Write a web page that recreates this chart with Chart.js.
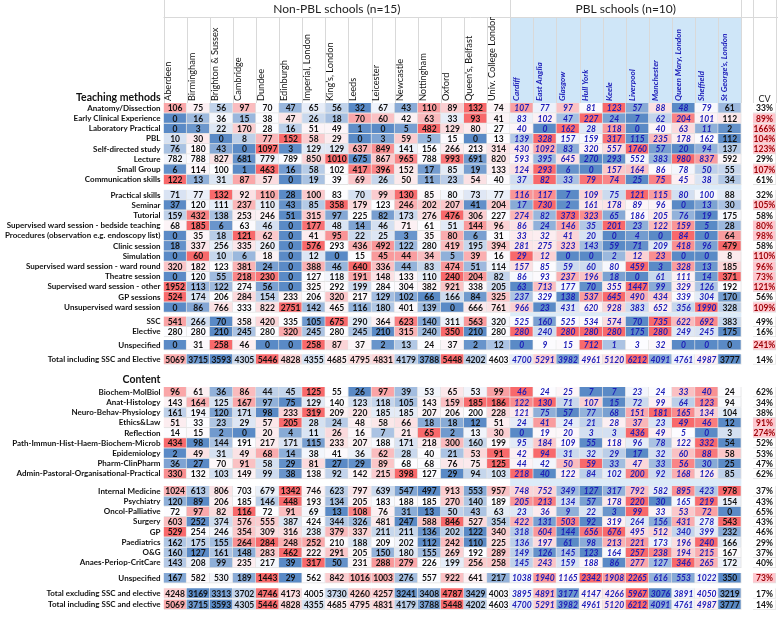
<!DOCTYPE html>
<html>
<head>
<meta charset="utf-8">
<script src="https://cdn.jsdelivr.net/npm/chart.js@4.4.1/dist/chart.umd.min.js"></script>
<style>
  html, body { margin: 0; padding: 0; background: #fff; }
</style>
</head>
<body>
<canvas id="chart" width="778" height="619"></canvas>
<script>
// schools: first 15 are non-PBL, last 10 are PBL
var schools = ['Aberdeen', 'Birmingham', 'Brighton & Sussex', 'Cambridge', 'Dundee', 'Edinburgh',
  'Imperial, London', 'King\u2019s, London', 'Leeds', 'Leicester', 'Newcastle', 'Nottingham', 'Oxford',
  'Queen\u2019s, Belfast', 'Univ. College London',
  'Cardiff', 'East Anglia', 'Glasgow', 'Hull York', 'Keele', 'Liverpool', 'Manchester',
  'Queen Mary, London', 'Sheffield', 'St George\u2019s, London'];
var nonPblCount = 15;

// teaching methods (hours)
var anatomy      = [106,75,56,97,70,47,65,56,32,67,43,110,89,132,74, 107,77,97,81,123,57,88,48,79,61];
var earlyClin    = [0,16,36,15,38,47,26,18,70,60,42,63,33,93,41, 83,102,47,227,24,7,62,204,101,112];
var labPract     = [0,3,22,170,28,16,51,49,1,0,5,482,129,80,27, 40,0,162,28,118,0,40,63,11,2];
var pbl          = [10,30,0,8,77,152,58,29,0,3,59,5,15,0,13, 139,328,157,159,317,115,235,178,162,112];
var selfDirected = [76,180,43,0,1097,3,129,129,637,849,141,156,266,213,314, 430,1092,83,320,557,1760,57,20,94,137];
var lecture      = [782,788,827,681,779,789,850,1010,675,867,965,788,993,691,820, 593,395,645,270,293,552,383,980,837,592];
var smallGroup   = [6,114,100,1,463,16,58,102,417,396,152,17,85,19,133, 124,293,6,0,157,164,86,78,50,55];
var commSkills   = [122,13,31,87,57,0,19,39,69,26,50,11,23,54,40, 37,82,33,79,74,25,75,45,38,34];
var practSkills  = [71,77,132,92,110,28,100,83,70,99,130,85,80,73,77, 116,117,7,109,75,121,115,80,100,88];
var seminar      = [37,120,111,237,110,43,85,358,179,123,246,202,207,41,204, 17,730,2,161,178,89,96,0,13,30];
var tutorial     = [159,432,138,253,246,51,315,97,225,82,173,276,476,306,227, 274,82,373,323,65,186,205,76,19,175];
var bedside      = [68,185,6,63,46,0,177,48,14,46,71,61,51,144,96, 86,24,146,35,201,23,122,159,5,28];
var procedures   = [0,35,18,121,62,0,41,95,22,25,3,35,80,6,31, 33,32,41,20,0,4,0,84,0,64];
var clinic       = [18,337,256,335,260,0,576,293,436,492,122,280,419,195,394, 281,275,323,143,59,71,209,418,96,479];
var simulation   = [0,60,10,6,18,0,12,0,15,45,44,34,5,39,16, 29,12,0,0,2,12,23,0,0,8];
var wardRound    = [320,182,123,381,24,0,388,46,640,336,44,83,474,51,114, 157,85,59,60,80,459,3,328,13,185];
var theatre      = [0,120,55,218,230,0,127,118,191,148,133,110,240,204,82, 86,93,237,196,18,0,61,111,14,371];
var wardOther    = [1952,113,122,274,56,0,325,292,199,284,304,382,921,338,205, 63,713,177,70,355,1447,99,329,126,192];
var gpSessions   = [524,174,206,284,154,233,206,320,217,129,102,66,166,84,325, 237,329,138,537,645,490,434,339,304,170];
var unsupWard    = [0,86,766,333,822,2751,142,465,116,180,401,139,0,666,761, 966,23,431,620,928,383,652,356,1990,328];
var ssc          = [541,266,70,358,420,335,105,675,290,364,623,140,311,563,320, 525,160,525,534,574,70,735,622,692,383];
var elective     = [280,280,210,245,280,320,245,280,245,210,315,240,350,210,280, 280,240,280,280,280,175,280,249,245,175];
var unspecTeach  = [0,31,258,46,0,0,258,87,37,2,13,24,37,2,12, 0,9,15,712,1,3,32,0,0,0];
var totalInclA   = [5069,3715,3593,4305,5446,4828,4355,4685,4795,4831,4179,3788,5448,4202,4603, 4700,5291,3982,4961,5120,6212,4091,4761,4987,3777];

var teachingLabels = ['Anatomy/Dissection', 'Early Clinical Experience', 'Laboratory Practical', 'PBL',
  'Self-directed study', 'Lecture', 'Small Group', 'Communication skills', 'Practical skills', 'Seminar',
  'Tutorial', 'Supervised ward session - bedside teaching', 'Procedures (observation e.g. endoscopy list)',
  'Clinic session', 'Simulation', 'Supervised ward session - ward round', 'Theatre session',
  'Supervised ward session - other', 'GP sessions', 'Unsupervised ward session', 'SSC', 'Elective',
  'Unspecified', 'Total including SSC and Elective'];
var teachingValues = [anatomy, earlyClin, labPract, pbl, selfDirected, lecture, smallGroup, commSkills,
  practSkills, seminar, tutorial, bedside, procedures, clinic, simulation, wardRound, theatre, wardOther,
  gpSessions, unsupWard, ssc, elective, unspecTeach, totalInclA];
var teachingCV = [33,89,166,104,123,29,107,61,32,105,58,80,98,58,110,96,73,121,56,109,49,16,241,14];

// content (hours)
var biochem      = [96,61,36,86,44,45,125,55,26,97,39,53,65,53,99, 46,24,25,7,7,23,24,33,40,24];
var anatHist     = [143,164,125,167,97,75,129,140,123,118,105,143,159,185,186, 122,130,71,107,15,72,99,64,123,94];
var neuroPhys    = [161,194,120,171,98,233,319,209,220,185,185,207,206,200,228, 121,75,57,77,68,151,181,165,134,104];
var ethicsLaw    = [51,33,23,29,57,205,28,24,48,58,66,18,18,12,51, 24,41,24,21,28,37,23,49,46,12];
var reflection   = [14,15,2,0,20,4,11,26,16,7,21,65,2,13,30, 0,19,20,3,3,436,49,5,0,3];
var pathImmun    = [434,98,144,191,217,171,115,233,207,188,171,218,300,160,199, 95,184,109,55,118,96,78,122,332,54];
var epidem       = [2,49,31,49,68,14,38,41,36,62,28,40,21,53,91, 42,94,31,32,29,17,32,60,88,58];
var pharm        = [36,27,70,91,58,29,81,27,29,89,68,68,76,75,125, 44,42,50,59,33,47,33,56,30,25];
var admin        = [330,132,103,149,99,38,138,92,142,215,398,127,29,94,103, 218,40,122,84,102,200,92,168,126,85];
var internalMed  = [1024,613,806,703,679,1342,746,623,797,639,547,497,913,553,957, 748,752,349,127,317,792,582,895,423,978];
var psychiatry   = [120,89,206,185,146,448,193,134,205,183,188,185,270,140,189, 205,213,134,57,178,220,30,165,219,154];
var oncol        = [72,97,82,116,72,91,69,13,108,76,31,13,50,43,63, 23,36,9,22,3,99,33,53,72,0];
var surgery      = [603,252,374,576,555,387,424,344,326,481,247,588,846,527,354, 422,131,503,92,319,264,156,431,278,543];
var gp           = [529,254,246,354,309,316,238,379,337,211,211,136,202,122,340, 318,604,144,656,676,495,512,340,399,232];
var paediatrics  = [162,175,155,264,284,248,252,210,188,209,202,112,242,110,225, 136,197,61,98,213,221,173,196,240,166];
var obsGyn       = [160,127,161,148,283,462,222,291,205,150,180,155,269,192,289, 149,126,145,123,164,257,238,194,215,167];
var anaes        = [143,208,99,235,217,39,317,50,231,288,279,226,199,256,258, 145,243,159,188,86,277,127,346,265,172];
var unspecCont   = [167,582,530,189,1443,29,562,842,1016,1003,276,557,922,641,217, 1038,1940,1165,2342,1908,2265,616,553,1022,350];
var totalExcl    = [4248,3169,3313,3702,4746,4173,4005,3730,4260,4257,3241,3408,4787,3429,4003, 3895,4891,3177,4147,4266,5967,3076,3891,4050,3219];
var totalInclB   = [5069,3715,3593,4305,5446,4828,4355,4685,4795,4831,4179,3788,5448,4202,4603, 4700,5291,3982,4961,5120,6212,4091,4761,4987,3777];

var contentLabels = ['Biochem-MolBiol', 'Anat-Histology', 'Neuro-Behav-Physiology', 'Ethics&Law', 'Reflection',
  'Path-Immun-Hist-Haem-Biochem-Microb', 'Epidemiology', 'Pharm-ClinPharm',
  'Admin-Pastoral-Organisational-Practical', 'Internal Medicine', 'Psychiatry', 'Oncol-Palliative', 'Surgery',
  'GP', 'Paediatrics', 'O&G', 'Anaes-Periop-CritCare', 'Unspecified', 'Total excluding SSC and elective',
  'Total including SSC and elective'];
var contentValues = [biochem, anatHist, neuroPhys, ethicsLaw, reflection, pathImmun, epidem, pharm, admin,
  internalMed, psychiatry, oncol, surgery, gp, paediatrics, obsGyn, anaes, unspecCont, totalExcl, totalInclB];
var contentCV = [62,34,38,91,274,52,53,47,62,37,43,65,43,46,29,37,40,73,17,14];

// ---- layout: extra vertical space (in rows) before some rows ----
var teachGap = {8: 0.5, 20: 0.4, 22: 0.3, 23: 0.4};
var contGap = {9: 0.7, 17: 0.5, 18: 0.5, 19: 0.1};
var cvX = 25.5;

var rowPos = [], rowText = [], rowVals = [], rowCV = [], headerIdx = [];
var p = -1;
headerIdx.push(rowPos.length); rowPos.push(p); rowText.push('Teaching methods'); rowVals.push(null); rowCV.push(null);
teachingLabels.forEach(function (lab, i) {
  p += 1 + (teachGap[i] || 0);
  rowPos.push(p); rowText.push(lab); rowVals.push(teachingValues[i]); rowCV.push(teachingCV[i]);
});
p += 2.0;
headerIdx.push(rowPos.length); rowPos.push(p); rowText.push('Content'); rowVals.push(null); rowCV.push(null);
p += 0.2;
contentLabels.forEach(function (lab, i) {
  p += 1 + (contGap[i] || 0);
  rowPos.push(p); rowText.push(lab); rowVals.push(contentValues[i]); rowCV.push(contentCV[i]);
});

// ---- excel style 3-colour scale (min blue, median white, max red), per row and per school group ----
var BLUE = [90, 138, 198], MID = [252, 252, 255], RED = [248, 105, 107];
function percentile(sorted, q) {
  var r = q * (sorted.length - 1), lo = Math.floor(r), hi = Math.ceil(r);
  return sorted[lo] + (sorted[hi] - sorted[lo]) * (r - lo);
}
function mix(a, b, t) {
  t = Math.max(0, Math.min(1, t));
  return 'rgb(' + a.map(function (c, k) { return Math.round(c + (b[k] - c) * t); }).join(',') + ')';
}
function heat(v, group) {
  var s = group.slice().sort(function (a, b) { return a - b; });
  var mn = s[0], mx = s[s.length - 1], md = percentile(s, 0.5);
  if (v <= md) return md === mn ? mix(BLUE, MID, 1) : mix(BLUE, MID, (v - mn) / (md - mn));
  return mix(MID, RED, (v - md) / (mx - md));
}

var datasets = [];
rowVals.forEach(function (vals, r) {
  if (!vals) return;
  var pos = rowPos[r];
  var pts = vals.map(function (v, i) { return {x: i, y: [pos - 0.5, pos + 0.5], v: v}; });
  pts.push({x: cvX, y: [pos - 0.5, pos + 0.5], v: rowCV[r], cv: true});
  datasets.push({
    data: pts,
    values: vals,
    backgroundColor: function (ctx) {
      var d = ctx.raw;
      if (!d) return '#fff';
      if (d.cv) return d.v > 70 ? '#ffc7ce' : '#ffffff';
      var vals = ctx.dataset.values;
      var grp = d.x < nonPblCount ? vals.slice(0, nonPblCount) : vals.slice(nonPblCount);
      return heat(d.v, grp);
    },
    borderColor: '#e2e2e2',
    borderWidth: {top: 0, left: 0, right: 1, bottom: 1},
    borderSkipped: false,
    categoryPercentage: 1,
    barPercentage: 1
  });
});

var FONT = 'Lato, "Open Sans", sans-serif';

var cellText = {
  id: 'cellText',
  afterDatasetsDraw: function (chart) {
    var ctx = chart.ctx;
    ctx.save();
    ctx.textAlign = 'center';
    ctx.textBaseline = 'middle';
    chart.data.datasets.forEach(function (ds, di) {
      var meta = chart.getDatasetMeta(di);
      meta.data.forEach(function (bar, i) {
        var d = ds.data[i];
        var txt = d.cv ? d.v + '%' : String(d.v);
        if (d.cv) {
          ctx.font = 'bold 8.5px ' + FONT;
          ctx.fillStyle = d.v > 70 ? '#9c0006' : '#111';
        } else if (d.x >= nonPblCount && d.x < schools.length - 1) {
          ctx.font = 'italic bold 8.5px ' + FONT;
          ctx.fillStyle = '#1c1cb8';
        } else {
          ctx.font = 'bold 8.5px ' + FONT;
          ctx.fillStyle = '#111';
        }
        ctx.fillText(txt, bar.x, (bar.y + bar.base) / 2 + 0.5);
      });
    });
    ctx.restore();
  }
};

var headerDeco = {
  id: 'headerDeco',
  beforeDraw: function (chart) {
    var ctx = chart.ctx, xs = chart.scales.x, ys = chart.scales.y, a = chart.chartArea;
    var headTop = 17, headBottom = a.top;
    ctx.save();
    ctx.fillStyle = '#fff';
    ctx.fillRect(0, 0, chart.width, chart.height);
    // PBL header shading
    var pl = xs.getPixelForValue(nonPblCount - 0.5), pr = xs.getPixelForValue(schools.length - 0.5);
    ctx.fillStyle = '#cfe6f8';
    ctx.fillRect(pl, headTop, pr - pl, headBottom - headTop);
    // light blue gap rows in PBL block
    ctx.fillStyle = '#dcebf8';
    [[7, 8.5], [19.5, 20.9], [35.8, 37.5]].forEach(function (g) {
      var t = ys.getPixelForValue(g[0] + 0.5), b = ys.getPixelForValue(g[1] - 0.5);
      ctx.fillRect(pl, t, pr - pl, b - t);
    });
    // grid lines of the header
    ctx.strokeStyle = '#d9d9d9';
    ctx.lineWidth = 1;
    ctx.beginPath();
    ctx.moveTo(a.left, headTop + 0.5); ctx.lineTo(chart.width, headTop + 0.5);
    for (var i = 0; i <= schools.length; i++) {
      var x = Math.round(xs.getPixelForValue(i - 0.5)) + 0.5;
      ctx.moveTo(x, headTop); ctx.lineTo(x, headBottom);
    }
    [cvX - 0.5, cvX + 0.5].forEach(function (v) {
      var x = Math.round(xs.getPixelForValue(v)) + 0.5;
      ctx.moveTo(x, 0); ctx.lineTo(x, headBottom);
    });
    [-0.5, nonPblCount - 0.5, schools.length - 0.5].forEach(function (v) {
      var x = Math.round(xs.getPixelForValue(v)) + 0.5;
      ctx.moveTo(x, 0); ctx.lineTo(x, headTop);
    });
    ctx.stroke();
    // group titles
    ctx.fillStyle = '#222';
    ctx.font = '12px ' + FONT;
    ctx.textAlign = 'center';
    ctx.textBaseline = 'middle';
    ctx.fillText('Non-PBL schools (n=15)', (xs.getPixelForValue(-0.5) + pl) / 2, 9);
    ctx.fillText('PBL schools (n=10)', (pl + pr) / 2, 9);
    ctx.font = '9px ' + FONT;
    ctx.fillText('CV', xs.getPixelForValue(cvX), ys.getPixelForValue(-1) + 1);
    ctx.restore();
  }
};

var config = {
  type: 'bar',
  data: {datasets: datasets},
  options: {
    responsive: false,
    animation: false,
    devicePixelRatio: 1,
    layout: {padding: {top: 17, right: 2, left: 0, bottom: 0}},
    plugins: {legend: {display: false}, tooltip: {enabled: false}},
    scales: {
      x: {
        type: 'linear',
        position: 'top',
        stacked: true,
        offset: false,
        min: -0.5,
        max: 26,
        grid: {display: false, drawTicks: false},
        border: {display: false},
        afterBuildTicks: function (scale) {
          scale.ticks = schools.map(function (s, i) { return {value: i}; });
        },
        // header box runs down to the first data row, so the rotated names are not clipped
        afterFit: function (scale) { scale.height = 86; },
        ticks: {
          autoSkip: false,
          minRotation: 90,
          maxRotation: 90,
          padding: 2,
          labelOffset: 4.5,
          callback: function (v, i) { return schools[i]; },
          color: function (ctx) { return ctx.index >= nonPblCount ? '#1c1cb8' : '#111'; },
          font: function (ctx) {
            return ctx.index >= nonPblCount
              ? {family: FONT, size: 8.2, style: 'italic', weight: 'bold'}
              : {family: FONT, size: 9.2};
          }
        }
      },
      y: {
        type: 'linear',
        stacked: false,
        reverse: true,
        beginAtZero: false,
        min: -0.5,
        max: 49.1,
        grid: {display: false, drawTicks: false},
        border: {display: false},
        afterBuildTicks: function (scale) {
          scale.ticks = rowPos.map(function (v) { return {value: v}; });
        },
        afterFit: function (scale) { scale.width = 163.5; },
        ticks: {
          autoSkip: false,
          padding: 3,
          color: '#111',
          callback: function (v, i) { return rowText[i]; },
          font: function (ctx) {
            return headerIdx.indexOf(ctx.index) >= 0
              ? {family: FONT, size: 10.5, weight: 'bold'}
              : {family: FONT, size: 8, weight: 'bold'};
          }
        }
      }
    }
  },
  plugins: [headerDeco, cellText]
};

var chart = new Chart(document.getElementById('chart').getContext('2d'), config);
</script>
</body>
</html>
